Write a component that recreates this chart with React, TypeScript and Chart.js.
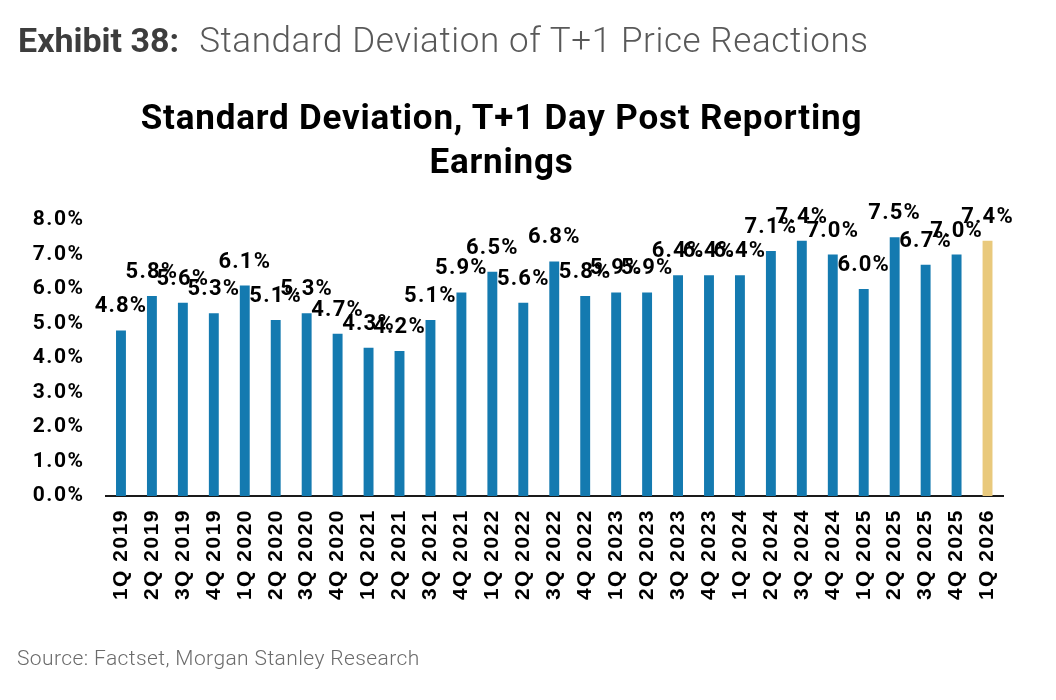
import { useEffect, useRef } from 'react'
import { Chart, ChartConfiguration, Plugin } from 'chart.js/auto'

const quarters = [
  '1Q 2019', '2Q 2019', '3Q 2019', '4Q 2019',
  '1Q 2020', '2Q 2020', '3Q 2020', '4Q 2020',
  '1Q 2021', '2Q 2021', '3Q 2021', '4Q 2021',
  '1Q 2022', '2Q 2022', '3Q 2022', '4Q 2022',
  '1Q 2023', '2Q 2023', '3Q 2023', '4Q 2023',
  '1Q 2024', '2Q 2024', '3Q 2024', '4Q 2024',
  '1Q 2025', '2Q 2025', '3Q 2025', '4Q 2025',
  '1Q 2026',
]

// std dev of T+1 price move, %
const stdDev = [
  4.8, 5.8, 5.6, 5.3,
  6.1, 5.1, 5.3, 4.7,
  4.3, 4.2, 5.1, 5.9,
  6.5, 5.6, 6.8, 5.8,
  5.9, 5.9, 6.4, 6.4,
  6.4, 7.1, 7.4, 7.0,
  6.0, 7.5, 6.7, 7.0,
  7.4,
]

const BLUE = '#147ab0'
const GOLD = '#e9c97c'

const barColors = stdDev.map((_, i) => (i === stdDev.length - 1 ? GOLD : BLUE))

// global tracking for the axis text
const spacingPlugin: Plugin<'bar'> = {
  id: 'spacing',
  beforeDraw(chart) {
    ;(chart.ctx as any).letterSpacing = '1.5px'
  },
}

const barLabelsPlugin: Plugin<'bar'> = {
  id: 'barLabels',
  afterDatasetsDraw(chart) {
    const { ctx } = chart
    const meta = chart.getDatasetMeta(0)
    ctx.save()
    ;(ctx as any).letterSpacing = '1.2px'
    ctx.font = 'bold 22px Roboto'
    ctx.fillStyle = '#000'
    ctx.textAlign = 'center'
    ctx.textBaseline = 'alphabetic'
    meta.data.forEach((bar, i) => {
      ctx.fillText(stdDev[i].toFixed(1) + '%', bar.x, bar.y - 18)
    })
    ctx.restore()
  },
}

function StdDevChart() {
  const canvasRef = useRef<HTMLCanvasElement>(null)
  const chartRef = useRef<Chart>()

  useEffect(() => {
    if (!canvasRef.current) return
    const ctx = canvasRef.current.getContext('2d')
    if (!ctx) return

    const config: ChartConfiguration<'bar'> = {
      type: 'bar',
      data: {
        labels: quarters,
        datasets: [
          {
            data: stdDev,
            backgroundColor: barColors,
            barPercentage: 0.32,
            categoryPercentage: 1,
          },
        ],
      },
      options: {
        responsive: true,
        maintainAspectRatio: false,
        animation: false,
        layout: {
          padding: { top: 220, right: 53, bottom: 0, left: 0 },
        },
        scales: {
          x: {
            grid: { display: false, drawTicks: false },
            border: { display: true, color: '#1a1a1a', width: 2 },
            ticks: {
              autoSkip: false,
              minRotation: 90,
              maxRotation: 90,
              padding: 13,
              color: '#000',
              font: { family: 'Liberation Sans', size: 21, weight: 'bold' },
            },
            afterFit: (scale) => {
              scale.height = 204
            },
          },
          y: {
            min: 0,
            max: 8,
            grid: { display: false, drawTicks: false },
            border: { display: false },
            ticks: {
              stepSize: 1,
              padding: 21,
              color: '#000',
              font: { family: 'Roboto', size: 21, weight: 'bold' },
              callback: (v) => Number(v).toFixed(1) + '%',
            },
            afterFit: (scale) => {
              scale.width = 105.5
            },
          },
        },
        plugins: {
          legend: { display: false },
          tooltip: { enabled: false },
        },
      },
      plugins: [spacingPlugin, barLabelsPlugin],
    }

    if (chartRef.current) {
      chartRef.current.destroy()
    }
    chartRef.current = new Chart(ctx, config)

    return () => {
      if (chartRef.current) {
        chartRef.current.destroy()
      }
    }
  }, [])

  return (
    <div style={{ position: 'absolute', left: 0, top: 0, width: 1056, height: 700 }}>
      <canvas ref={canvasRef} />
    </div>
  )
}

export default function App() {
  return (
    <div
      style={{
        position: 'fixed',
        left: 0,
        top: 0,
        width: 1056,
        height: 700,
        background: '#fff',
        fontFamily: 'Roboto, sans-serif',
        overflow: 'hidden',
      }}
    >
      <StdDevChart />
      <div
        style={{
          position: 'absolute',
          left: 18,
          top: 23,
          fontSize: 34,
          lineHeight: '34px',
          whiteSpace: 'nowrap',
        }}
      >
        <span style={{ fontWeight: 700, color: '#3d3d3d' }}>Exhibit 38:</span>
        <span
          style={{
            fontWeight: 300,
            color: '#595959',
            marginLeft: 20,
            fontSize: 35,
            letterSpacing: 0.6,
          }}
        >
          Standard Deviation of T+1 Price Reactions
        </span>
      </div>
      <div
        style={{
          position: 'absolute',
          left: 0,
          top: 96,
          width: 1003,
          textAlign: 'center',
          fontSize: 35,
          lineHeight: '44px',
          fontWeight: 700,
          letterSpacing: 0.8,
          color: '#000',
        }}
      >
        Standard Deviation, T+1 Day Post Reporting
        <br />
        Earnings
      </div>
      <div
        style={{
          position: 'absolute',
          left: 17,
          top: 645,
          fontSize: 21,
          lineHeight: '26px',
          fontWeight: 300,
          color: '#6b6b6b',
          letterSpacing: 0.4,
          whiteSpace: 'nowrap',
        }}
      >
        Source: Factset, Morgan Stanley Research
      </div>
    </div>
  )
}
